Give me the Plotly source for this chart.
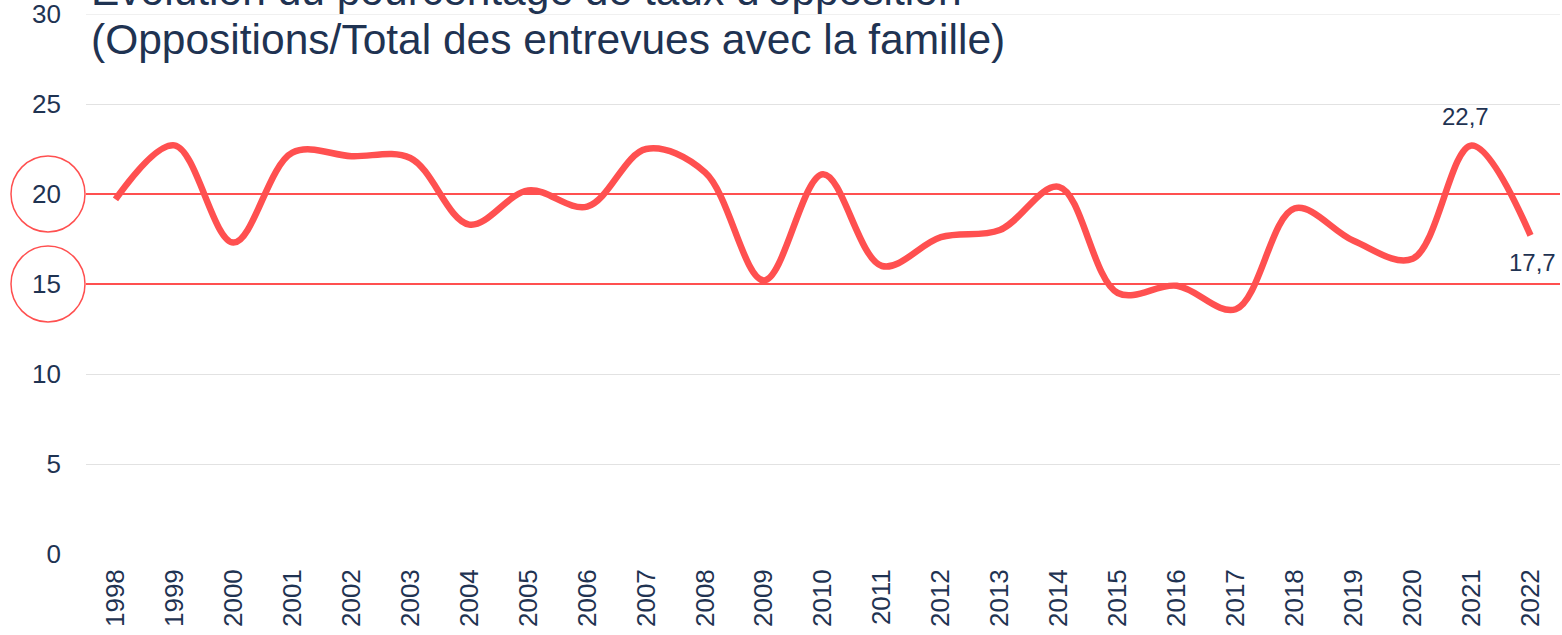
import plotly.graph_objects as go

# Annual opposition rate (%)
years = ["1998", "1999", "2000", "2001", "2002", "2003", "2004", "2005", "2006",
         "2007", "2008", "2009", "2010", "2011", "2012", "2013", "2014", "2015",
         "2016", "2017", "2018", "2019", "2020", "2021", "2022"]
rates = [19.7, 22.7, 17.3, 22.3, 22.1, 22.0, 18.3, 20.2, 19.3,
         22.5, 21.2, 15.2, 21.1, 16.0, 17.6, 18.0, 20.4, 14.5,
         14.9, 13.6, 19.2, 17.4, 16.4, 22.7, 17.7]

y_ticks = [0, 5, 10, 15, 20, 25, 30]
reference_levels = [20, 15]
labelled_years = ["2021", "2022"]

title_lines = ["Évolution du pourcentage de taux d'opposition",
               "(Oppositions/Total des entrevues avec la famille)"]

navy = "#1f3352"
red = "#ff5050"
grid = "#e2e2e2"
font_family = "Liberation Sans, Arial, sans-serif"

n = len(years)
fig = go.Figure()

# Threshold lines across the full width of the plot
for lvl in reference_levels:
    fig.add_trace(go.Scatter(
        x=[-0.5, n - 0.5], y=[lvl, lvl], mode="lines",
        line=dict(color=red, width=2), hoverinfo="skip", showlegend=False,
    ))

fig.add_trace(go.Scatter(
    x=list(range(n)), y=rates, mode="lines",
    line=dict(color=red, width=6.5, shape="spline", smoothing=1.0),
    hovertext=years, hoverinfo="text+y", showlegend=False,
))

# Gridline at the top of the range (not drawn by the axis at its edge)
fig.add_shape(type="line", xref="paper", x0=0, x1=1, yref="y",
              y0=y_ticks[-1], y1=y_ticks[-1], line=dict(color=grid, width=1),
              layer="below")

# Ring around each threshold tick label
for lvl in reference_levels:
    fig.add_shape(type="circle", xref="paper", xsizemode="pixel", xanchor=0,
                  x0=-75, x1=-1, yref="y", ysizemode="pixel", yanchor=lvl,
                  y0=-38, y1=38, line=dict(color=red, width=1.5))

# Value labels on the last two points
shifts = {"2021": (-6, 29), "2022": (2, -27)}
for yr in labelled_years:
    i = years.index(yr)
    v = rates[i]
    dx, dy = shifts[yr]
    fig.add_annotation(x=i, y=v, xref="x", yref="y",
                       text=f"{v:.1f}".replace(".", ","),
                       showarrow=False, xshift=dx, yshift=dy,
                       font=dict(family=font_family, size=24, color=navy))

# Two-line heading
for line_text, ypos in zip(title_lines, [1.044, 0.9526]):
    fig.add_annotation(xref="paper", yref="paper", x=0.002, y=ypos,
                       xanchor="left", yanchor="middle", align="left",
                       text=line_text, showarrow=False,
                       font=dict(family=font_family, size=42.5, color=navy))

fig.update_layout(
    width=1562, height=635,
    margin=dict(l=86, r=2, t=14, b=81, autoexpand=False),
    paper_bgcolor="white", plot_bgcolor="white",
    font=dict(family=font_family, size=26, color=navy),
    xaxis=dict(tickmode="array", tickvals=list(range(n)), ticktext=years,
               tickangle=-90, showgrid=False, showline=False, automargin=False,
               zeroline=False, ticks="", tickfont=dict(size=26, color=navy),
               range=[-0.5, n - 0.5], ticklabelstandoff=9),
    yaxis=dict(range=[0, 30], tickvals=y_ticks, showgrid=True, gridcolor=grid,
               gridwidth=1, zeroline=False, showline=False, ticks="",
               automargin=False, tickfont=dict(size=26, color=navy),
               ticklabelstandoff=24, ticklabeloverflow="allow"),
)

fig.write_html("out.html")
